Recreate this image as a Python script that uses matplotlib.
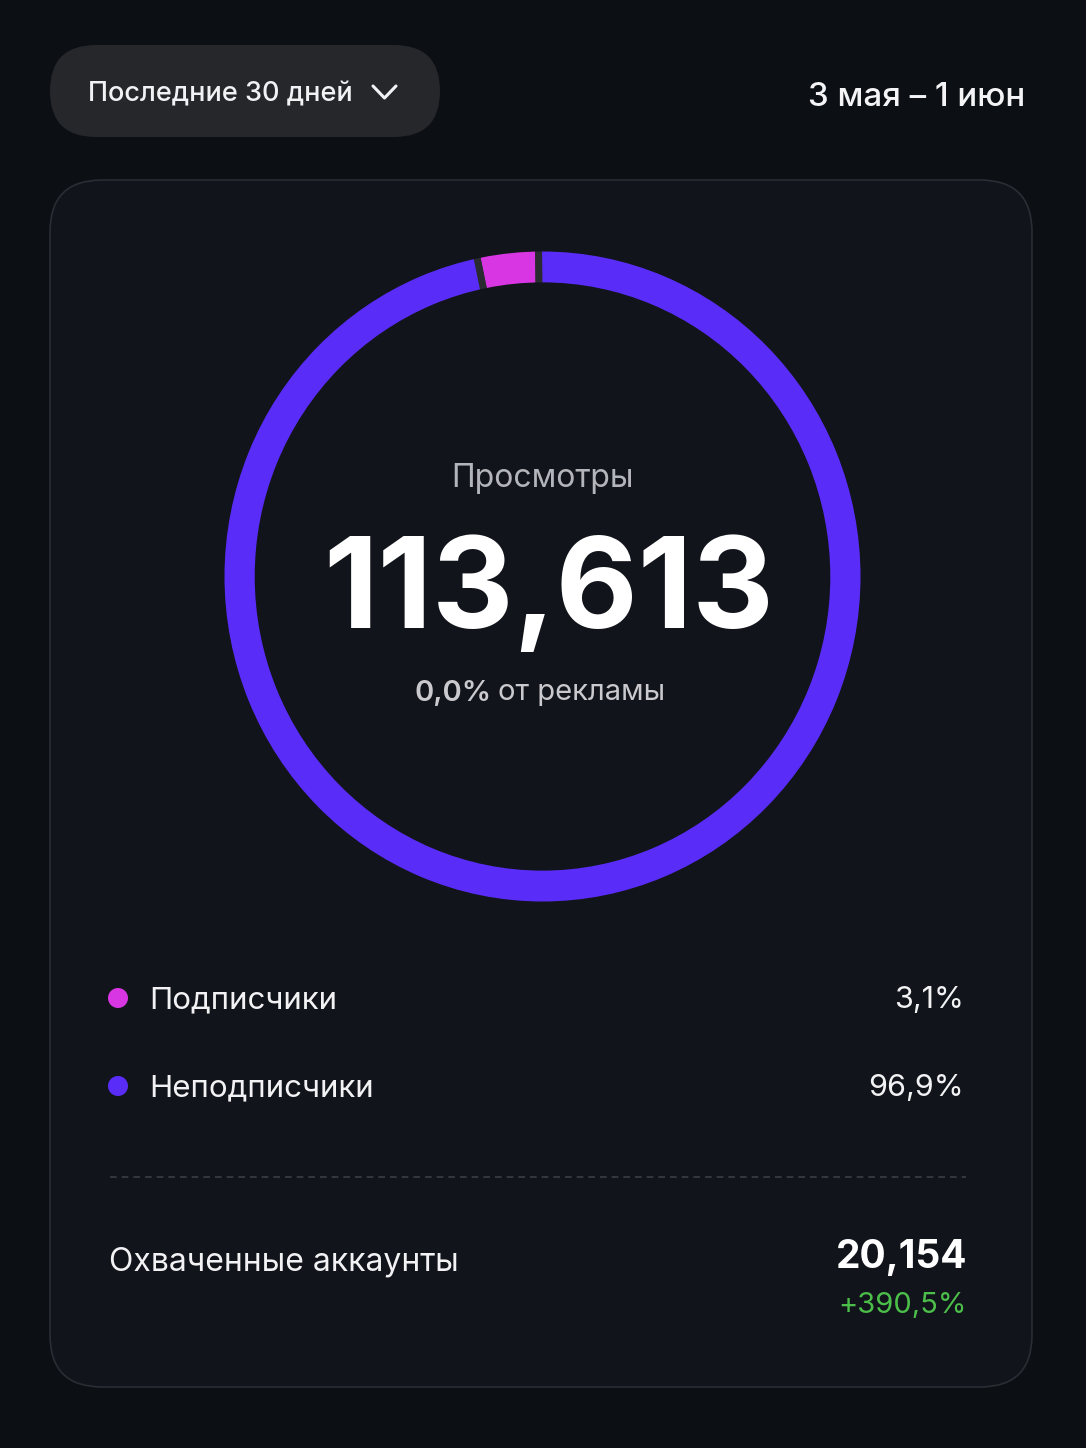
import matplotlib
matplotlib.use("Agg")
import matplotlib.pyplot as plt
from matplotlib.patches import FancyBboxPatch, Circle

plt.rcParams['font.family'] = ['Inter', 'DejaVu Sans']

# ---- data ----
period_label = "Последние 30 дней"
date_range = "3 мая – 1 июн"
categories = ["Подписчики", "Неподписчики"]
shares = [3.1, 96.9]
share_labels = ["3,1%", "96,9%"]
colors = ["#d836e3", "#5a2cf8"]
metric_title = "Просмотры"
metric_value = "113,613"
ads_share = "0,0%"
ads_text = "от рекламы"
reach_label = "Охваченные аккаунты"
reach_value = "20,154"
reach_change = "+390,5%"

W, H = 1086, 1448
BG = "#0c0f14"
CARD = "#11141a"
TRACK = "#2a2b31"

fig = plt.figure(figsize=(W / 100, H / 100), dpi=100, facecolor=BG)
ax = fig.add_axes([0, 0, 1, 1])
ax.set_xlim(0, W)
ax.set_ylim(H, 0)
ax.axis("off")
ax.set_facecolor(BG)

# pill
ax.add_patch(FancyBboxPatch((50, 45), 390, 92, boxstyle="round,pad=0,rounding_size=46",
                            fc="#25272b", ec="none"))
ax.text(88, 94, period_label, color="#f2f2f4", fontsize=19.5, va="center", ha="left",
        fontweight="medium")
ax.plot([373, 384.5, 396], [86, 98, 86], color="#f2f2f4", lw=2.2, solid_capstyle="round",
        solid_joinstyle="round")
ax.text(1025, 97, date_range, color="#f4f4f6", fontsize=23.8, va="center", ha="right",
        fontweight="medium")

# card
ax.add_patch(FancyBboxPatch((50, 180), 982, 1207, boxstyle="round,pad=0,rounding_size=52",
                            fc=CARD, ec="#2a2d33", lw=1.2))

# donut (slightly taller than wide, as in the reference)
cx, cy, RX, RY = 542.5, 576.5, 318, 325
dax = fig.add_axes([(cx - RX) / W, 1 - (cy + RY) / H, 2 * RX / W, 2 * RY / H])
dax.set_xlim(-1, 1)
dax.set_ylim(-1, 1)
dax.axis("off")
dax.patch.set_alpha(0)
# gray track (visible in the gaps)
dax.pie([1], colors=[TRACK], radius=1.003, startangle=90,
        wedgeprops=dict(width=0.1, edgecolor="none"))
# segments
dax.pie(shares, colors=colors, radius=1.015, startangle=90.7, counterclock=True,
        wedgeprops=dict(width=0.125, edgecolor=TRACK, linewidth=5))
# trim the outer / inner outline of the segment strokes
dax.pie([1], colors=[CARD], radius=1.05, startangle=90,
        wedgeprops=dict(width=0.05, edgecolor="none"))
dax.pie([1], colors=[CARD], radius=0.905, startangle=90,
        wedgeprops=dict(width=0.03, edgecolor="none"))
dax.set_aspect("auto")
dax.set_xlim(-1, 1)
dax.set_ylim(-1, 1)

ax.text(543, 478, metric_title, color="#b4b5ba", fontsize=23, ha="center", va="center")
ax.text(549, 628, metric_value, color="#ffffff", fontsize=91, ha="center", va="baseline",
        fontweight="bold")
ax.text(414, 693, ads_share, color="#c9c9ce", fontsize=21, ha="left", va="center",
        fontweight="semibold")
ax.text(498, 693, ads_text, color="#c9c9ce", fontsize=21, ha="left", va="center")

# legend rows
row_y = [998, 1086]
for yy, lab, val, col in zip(row_y, categories, share_labels, colors):
    ax.add_patch(Circle((118, yy), 10, fc=col, ec="none"))
    ax.text(149, yy + 2, lab, color="#f2f2f4", fontsize=22.5, ha="left", va="center")
    ax.text(964, yy + 2, val, color="#f2f2f4", fontsize=22, ha="right", va="center")

ax.plot([110, 966], [1177, 1177], color="#3b3e44", lw=1.2, ls=(0, (4, 3)))

ax.text(109, 1262, reach_label, color="#f2f2f4", fontsize=23, ha="left", va="center")
ax.text(967, 1257, reach_value, color="#ffffff", fontsize=28, ha="right", va="center",
        fontweight="bold")
ax.text(967, 1306, reach_change, color="#4cbf4a", fontsize=21, ha="right", va="center")

fig.savefig("out.png", dpi=100, facecolor=BG)
